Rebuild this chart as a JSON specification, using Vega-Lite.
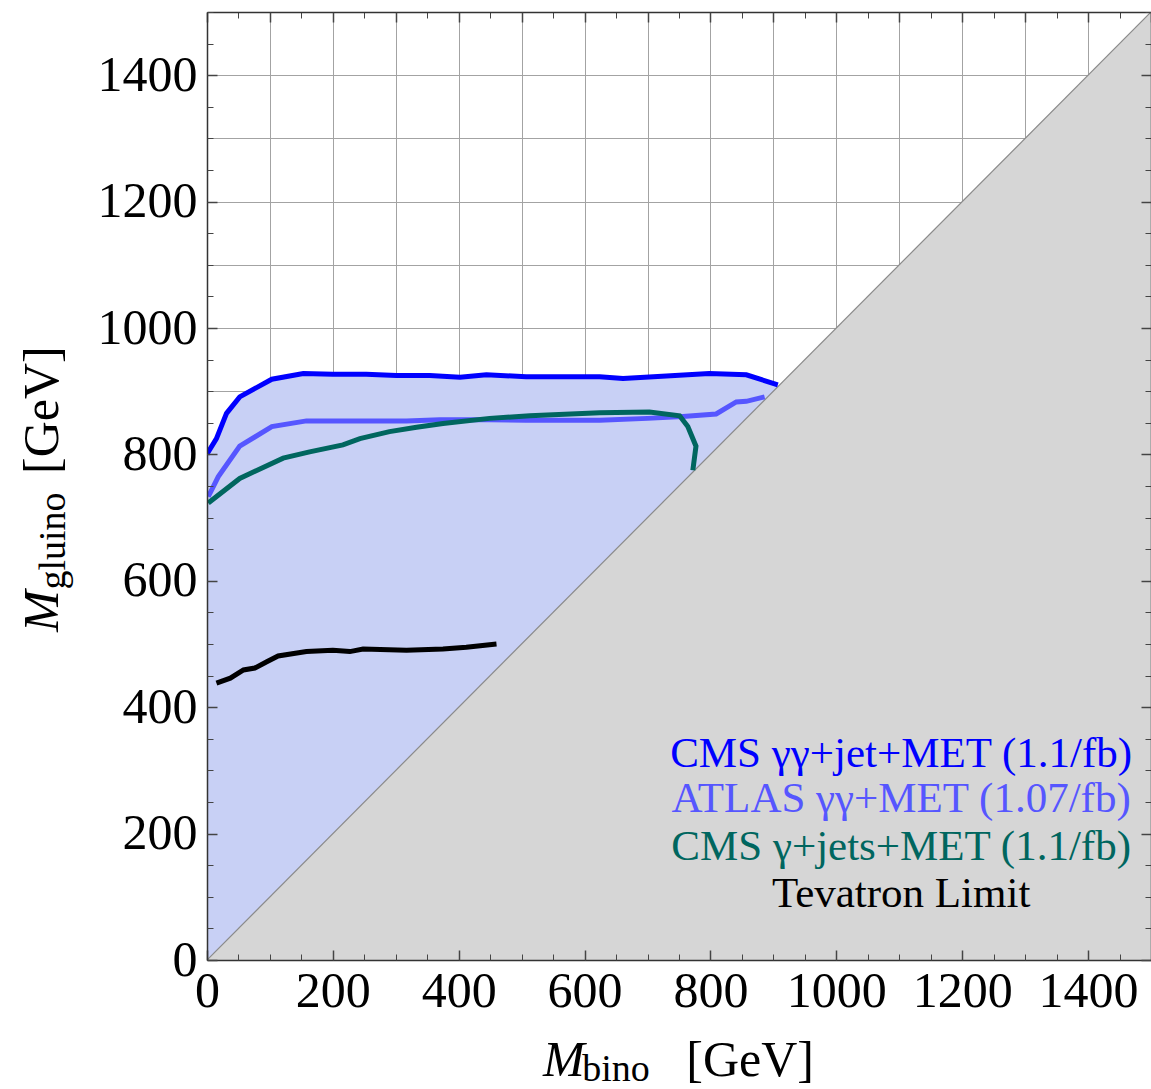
{
  "$schema": "https://vega.github.io/schema/vega-lite/v6.json",
  "width": 944,
  "height": 948,
  "autosize": {"type": "none"},
  "padding": {"left": 207, "top": 12, "right": 0, "bottom": 129},
  "background": "white",
  "config": {
    "view": {"stroke": null},
    "axis": {"labelFont": "Liberation Serif", "labelFontSize": 50, "labelColor": "#000000", "domainColor": "#333333", "tickColor": "#444444"}
  },
  "datasets": {
    "curves": [
      {"s": "cms_gg", "i": 0, "x": 0, "y": 800},
      {"s": "cms_gg", "i": 1, "x": 2, "y": 804},
      {"s": "cms_gg", "i": 2, "x": 15, "y": 825},
      {"s": "cms_gg", "i": 3, "x": 31, "y": 865},
      {"s": "cms_gg", "i": 4, "x": 52, "y": 891},
      {"s": "cms_gg", "i": 5, "x": 103, "y": 919},
      {"s": "cms_gg", "i": 6, "x": 153, "y": 928},
      {"s": "cms_gg", "i": 7, "x": 200, "y": 927},
      {"s": "cms_gg", "i": 8, "x": 253, "y": 927},
      {"s": "cms_gg", "i": 9, "x": 301, "y": 925},
      {"s": "cms_gg", "i": 10, "x": 354, "y": 925},
      {"s": "cms_gg", "i": 11, "x": 402, "y": 922},
      {"s": "cms_gg", "i": 12, "x": 444, "y": 926},
      {"s": "cms_gg", "i": 13, "x": 507, "y": 923},
      {"s": "cms_gg", "i": 14, "x": 560, "y": 923},
      {"s": "cms_gg", "i": 15, "x": 624, "y": 923},
      {"s": "cms_gg", "i": 16, "x": 661, "y": 920},
      {"s": "cms_gg", "i": 17, "x": 730, "y": 924},
      {"s": "cms_gg", "i": 18, "x": 798, "y": 928},
      {"s": "cms_gg", "i": 19, "x": 857, "y": 926},
      {"s": "cms_gg", "i": 20, "x": 907, "y": 910},
      {"s": "atlas", "i": 0, "x": 2, "y": 733},
      {"s": "atlas", "i": 1, "x": 18, "y": 765},
      {"s": "atlas", "i": 2, "x": 52, "y": 813},
      {"s": "atlas", "i": 3, "x": 103, "y": 844},
      {"s": "atlas", "i": 4, "x": 158, "y": 853},
      {"s": "atlas", "i": 5, "x": 238, "y": 853},
      {"s": "atlas", "i": 6, "x": 317, "y": 853},
      {"s": "atlas", "i": 7, "x": 370, "y": 855},
      {"s": "atlas", "i": 8, "x": 449, "y": 855},
      {"s": "atlas", "i": 9, "x": 507, "y": 854},
      {"s": "atlas", "i": 10, "x": 624, "y": 854},
      {"s": "atlas", "i": 11, "x": 700, "y": 857},
      {"s": "atlas", "i": 12, "x": 756, "y": 860},
      {"s": "atlas", "i": 13, "x": 809, "y": 864},
      {"s": "atlas", "i": 14, "x": 841, "y": 883},
      {"s": "atlas", "i": 15, "x": 857, "y": 884},
      {"s": "atlas", "i": 16, "x": 886, "y": 891},
      {"s": "cms_gj", "i": 0, "x": 2, "y": 723},
      {"s": "cms_gj", "i": 1, "x": 52, "y": 762},
      {"s": "cms_gj", "i": 2, "x": 121, "y": 794},
      {"s": "cms_gj", "i": 3, "x": 163, "y": 804},
      {"s": "cms_gj", "i": 4, "x": 216, "y": 815},
      {"s": "cms_gj", "i": 5, "x": 243, "y": 825},
      {"s": "cms_gj", "i": 6, "x": 290, "y": 836},
      {"s": "cms_gj", "i": 7, "x": 333, "y": 843},
      {"s": "cms_gj", "i": 8, "x": 375, "y": 849},
      {"s": "cms_gj", "i": 9, "x": 449, "y": 857},
      {"s": "cms_gj", "i": 10, "x": 513, "y": 861},
      {"s": "cms_gj", "i": 11, "x": 624, "y": 866},
      {"s": "cms_gj", "i": 12, "x": 703, "y": 867},
      {"s": "cms_gj", "i": 13, "x": 751, "y": 861},
      {"s": "cms_gj", "i": 14, "x": 764, "y": 844},
      {"s": "cms_gj", "i": 15, "x": 777, "y": 813},
      {"s": "cms_gj", "i": 16, "x": 772, "y": 775},
      {"s": "tev", "i": 0, "x": 15, "y": 438},
      {"s": "tev", "i": 1, "x": 37, "y": 446},
      {"s": "tev", "i": 2, "x": 58, "y": 459},
      {"s": "tev", "i": 3, "x": 76, "y": 462},
      {"s": "tev", "i": 4, "x": 95, "y": 472},
      {"s": "tev", "i": 5, "x": 113, "y": 481},
      {"s": "tev", "i": 6, "x": 158, "y": 488},
      {"s": "tev", "i": 7, "x": 200, "y": 490},
      {"s": "tev", "i": 8, "x": 227, "y": 488},
      {"s": "tev", "i": 9, "x": 248, "y": 492},
      {"s": "tev", "i": 10, "x": 317, "y": 490},
      {"s": "tev", "i": 11, "x": 375, "y": 492},
      {"s": "tev", "i": 12, "x": 412, "y": 495},
      {"s": "tev", "i": 13, "x": 460, "y": 500}
    ]
  },
  "layer": [
    {
      "data": {"name": "curves"},
      "transform": [{"filter": "datum.s === 'cms_gg'"}],
      "mark": {"type": "area", "color": "#c8d0f5", "clip": true},
      "encoding": {
        "x": {"field": "x", "type": "quantitative", "scale": {"domain": [0, 1500], "nice": false, "zero": false},
          "axis": {"orient": "bottom", "title": null, "values": [0,100,200,300,400,500,600,700,800,900,1000,1100,1200,1300,1400,1500], "grid": true, "gridColor": "#a3a3a3", "gridWidth": 1, "ticks": false, "labels": false, "domain": false, "zindex": 0}},
        "y": {"field": "y", "type": "quantitative", "scale": {"domain": [0, 1500], "nice": false, "zero": false},
          "axis": {"orient": "left", "title": null, "values": [0,100,200,300,400,500,600,700,800,900,1000,1100,1200,1300,1400,1500], "grid": true, "gridColor": "#a3a3a3", "gridWidth": 1, "ticks": false, "labels": false, "domain": false, "zindex": 0}},
        "y2": {"datum": 0}
      }
    },
    {
      "data": {"values": [{"x": 0, "y": 0}, {"x": 1500, "y": 1500}]},
      "mark": {"type": "area", "color": "#d6d6d6", "clip": true},
      "encoding": {
        "x": {"field": "x", "type": "quantitative", "scale": {"domain": [0, 1500], "nice": false, "zero": false},
          "axis": {"orient": "bottom", "title": null, "format": "d", "values": [0,200,400,600,800,1000,1200,1400], "grid": false, "ticks": false, "tickSize": 0, "labels": true, "labelPadding": 6, "labelFlush": false, "labelOverlap": false, "domain": true, "domainColor": "#333333", "domainWidth": 1.5, "zindex": 1}},
        "y": {"field": "y", "type": "quantitative", "scale": {"domain": [0, 1500], "nice": false, "zero": false},
          "axis": {"orient": "left", "title": null, "format": "d", "values": [0,200,400,600,800,1000,1200,1400], "grid": false, "ticks": false, "tickSize": 0, "labels": true, "labelPadding": 10, "labelFlush": false, "labelOverlap": false, "domain": true, "domainColor": "#333333", "domainWidth": 1.5, "zindex": 1}},
        "y2": {"datum": 0}
      }
    },
    {
      "data": {"values": [{"x": 0, "y": 0}, {"x": 1500, "y": 1500}]},
      "mark": {"type": "line", "color": "#8a8a8a", "strokeWidth": 1.2, "clip": true},
      "encoding": {
        "x": {"field": "x", "type": "quantitative", "scale": {"domain": [0, 1500], "nice": false, "zero": false},
          "axis": {"orient": "bottom", "title": null, "values": [0,50,100,150,200,250,300,350,400,450,500,550,600,650,700,750,800,850,900,950,1000,1050,1100,1150,1200,1250,1300,1350,1400,1450,1500], "grid": false, "ticks": true, "tickSize": -6, "tickWidth": 1, "labels": false, "domain": false, "zindex": 1}},
        "y": {"field": "y", "type": "quantitative", "scale": {"domain": [0, 1500], "nice": false, "zero": false},
          "axis": {"orient": "left", "title": null, "values": [0,50,100,150,200,250,300,350,400,450,500,550,600,650,700,750,800,850,900,950,1000,1050,1100,1150,1200,1250,1300,1350,1400,1450,1500], "grid": false, "ticks": true, "tickSize": -6, "tickWidth": 1, "labels": false, "domain": false, "zindex": 1}}
      }
    },
    {
      "data": {"name": "curves"},
      "mark": {"type": "line", "strokeWidth": 5, "clip": true},
      "encoding": {
        "x": {"field": "x", "type": "quantitative", "scale": {"domain": [0, 1500], "nice": false, "zero": false},
          "axis": {"orient": "bottom", "title": null, "values": [0,200,400,600,800,1000,1200,1400], "grid": false, "ticks": true, "tickSize": -10, "tickWidth": 1.5, "labels": false, "domain": false, "zindex": 1}},
        "y": {"field": "y", "type": "quantitative", "scale": {"domain": [0, 1500], "nice": false, "zero": false},
          "axis": {"orient": "left", "title": null, "values": [0,200,400,600,800,1000,1200,1400], "grid": false, "ticks": true, "tickSize": -10, "tickWidth": 1.5, "labels": false, "domain": false, "zindex": 1}},
        "color": {"field": "s", "type": "nominal", "scale": {"domain": ["cms_gg", "atlas", "cms_gj", "tev"], "range": ["#0000ff", "#5656ff", "#00665f", "#000000"]}, "legend": null},
        "detail": {"field": "s"},
        "order": {"field": "i", "type": "quantitative"}
      }
    },
    {
      "data": {"values": [{}]},
      "mark": {"type": "text", "font": "Liberation Serif", "fontSize": 43, "align": "center", "baseline": "alphabetic", "color": "#0000ff", "clip": false},
      "encoding": {
        "x": {"datum": 1103, "type": "quantitative", "scale": {"domain": [0, 1500], "nice": false, "zero": false},
          "axis": {"orient": "top", "title": null, "values": [0,50,100,150,200,250,300,350,400,450,500,550,600,650,700,750,800,850,900,950,1000,1050,1100,1150,1200,1250,1300,1350,1400,1450,1500], "grid": false, "ticks": true, "tickSize": -6, "tickWidth": 1, "labels": false, "domain": true, "domainColor": "#333333", "domainWidth": 1.5, "zindex": 1}},
        "y": {"datum": 305, "type": "quantitative", "scale": {"domain": [0, 1500], "nice": false, "zero": false},
          "axis": {"orient": "right", "title": null, "values": [0,50,100,150,200,250,300,350,400,450,500,550,600,650,700,750,800,850,900,950,1000,1050,1100,1150,1200,1250,1300,1350,1400,1450,1500], "grid": false, "ticks": true, "tickSize": -6, "tickWidth": 1, "labels": false, "domain": true, "domainColor": "#333333", "domainWidth": 1.5, "zindex": 1}},
        "text": {"value": "CMS γγ+jet+MET (1.1/fb)"}
      }
    },
    {
      "data": {"values": [{}]},
      "mark": {"type": "text", "font": "Liberation Serif", "fontSize": 43, "align": "center", "baseline": "alphabetic", "color": "#5656ff", "clip": false},
      "encoding": {
        "x": {"datum": 1103, "type": "quantitative", "scale": {"domain": [0, 1500], "nice": false, "zero": false},
          "axis": {"orient": "top", "title": null, "values": [0,100,200,300,400,500,600,700,800,900,1000,1100,1200,1300,1400,1500], "grid": false, "ticks": true, "tickSize": -10, "tickWidth": 1.5, "labels": false, "domain": false, "zindex": 1}},
        "y": {"datum": 234, "type": "quantitative", "scale": {"domain": [0, 1500], "nice": false, "zero": false},
          "axis": {"orient": "right", "title": null, "values": [0,200,400,600,800,1000,1200,1400], "grid": false, "ticks": true, "tickSize": -10, "tickWidth": 1.5, "labels": false, "domain": false, "zindex": 1}},
        "text": {"value": "ATLAS γγ+MET (1.07/fb)"}
      }
    },
    {
      "data": {"values": [{}]},
      "mark": {"type": "text", "font": "Liberation Serif", "fontSize": 43, "align": "center", "baseline": "alphabetic", "color": "#00665f", "clip": false},
      "encoding": {
        "x": {"datum": 1103, "type": "quantitative", "scale": {"domain": [0, 1500], "nice": false, "zero": false}, "axis": null},
        "y": {"datum": 158, "type": "quantitative", "scale": {"domain": [0, 1500], "nice": false, "zero": false}, "axis": null},
        "text": {"value": "CMS γ+jets+MET (1.1/fb)"}
      }
    },
    {
      "data": {"values": [{}]},
      "mark": {"type": "text", "font": "Liberation Serif", "fontSize": 43, "align": "center", "baseline": "alphabetic", "color": "#000000", "clip": false},
      "encoding": {
        "x": {"datum": 1103, "type": "quantitative", "scale": {"domain": [0, 1500], "nice": false, "zero": false}, "axis": null},
        "y": {"datum": 84, "type": "quantitative", "scale": {"domain": [0, 1500], "nice": false, "zero": false}, "axis": null},
        "text": {"value": "Tevatron Limit"}
      }
    },
    {
      "data": {"values": [{}]},
      "mark": {"type": "text", "font": "Liberation Serif", "fontSize": 50, "fontStyle": "italic", "align": "center", "baseline": "alphabetic", "color": "#000000", "clip": false},
      "encoding": {
        "x": {"datum": 567, "type": "quantitative", "scale": {"domain": [0, 1500], "nice": false, "zero": false}, "axis": null},
        "y": {"datum": -184, "type": "quantitative", "scale": {"domain": [0, 1500], "nice": false, "zero": false}, "axis": null},
        "text": {"value": "M"}
      }
    },
    {
      "data": {"values": [{}]},
      "mark": {"type": "text", "font": "Liberation Serif", "fontSize": 38, "align": "center", "baseline": "alphabetic", "color": "#000000", "clip": false},
      "encoding": {
        "x": {"datum": 650, "type": "quantitative", "scale": {"domain": [0, 1500], "nice": false, "zero": false}, "axis": null},
        "y": {"datum": -191, "type": "quantitative", "scale": {"domain": [0, 1500], "nice": false, "zero": false}, "axis": null},
        "text": {"value": "bino"}
      }
    },
    {
      "data": {"values": [{}]},
      "mark": {"type": "text", "font": "Liberation Serif", "fontSize": 50, "align": "center", "baseline": "alphabetic", "color": "#000000", "clip": false},
      "encoding": {
        "x": {"datum": 863, "type": "quantitative", "scale": {"domain": [0, 1500], "nice": false, "zero": false}, "axis": null},
        "y": {"datum": -184, "type": "quantitative", "scale": {"domain": [0, 1500], "nice": false, "zero": false}, "axis": null},
        "text": {"value": "[GeV]"}
      }
    },
    {
      "data": {"values": [{}]},
      "mark": {"type": "text", "font": "Liberation Serif", "fontSize": 50, "fontStyle": "italic", "align": "center", "baseline": "alphabetic", "angle": 270, "color": "#000000", "clip": false},
      "encoding": {
        "x": {"datum": -236, "type": "quantitative", "scale": {"domain": [0, 1500], "nice": false, "zero": false}, "axis": null},
        "y": {"datum": 552, "type": "quantitative", "scale": {"domain": [0, 1500], "nice": false, "zero": false}, "axis": null},
        "text": {"value": "M"}
      }
    },
    {
      "data": {"values": [{}]},
      "mark": {"type": "text", "font": "Liberation Serif", "fontSize": 38, "align": "center", "baseline": "alphabetic", "angle": 270, "color": "#000000", "clip": false},
      "encoding": {
        "x": {"datum": -225, "type": "quantitative", "scale": {"domain": [0, 1500], "nice": false, "zero": false}, "axis": null},
        "y": {"datum": 663, "type": "quantitative", "scale": {"domain": [0, 1500], "nice": false, "zero": false}, "axis": null},
        "text": {"value": "gluino"}
      }
    },
    {
      "data": {"values": [{}]},
      "mark": {"type": "text", "font": "Liberation Serif", "fontSize": 50, "align": "center", "baseline": "alphabetic", "angle": 270, "color": "#000000", "clip": false},
      "encoding": {
        "x": {"datum": -236, "type": "quantitative", "scale": {"domain": [0, 1500], "nice": false, "zero": false}, "axis": null},
        "y": {"datum": 870, "type": "quantitative", "scale": {"domain": [0, 1500], "nice": false, "zero": false}, "axis": null},
        "text": {"value": "[GeV]"}
      }
    }
  ],
  "resolve": {"axis": {"x": "independent", "y": "independent"}}
}
